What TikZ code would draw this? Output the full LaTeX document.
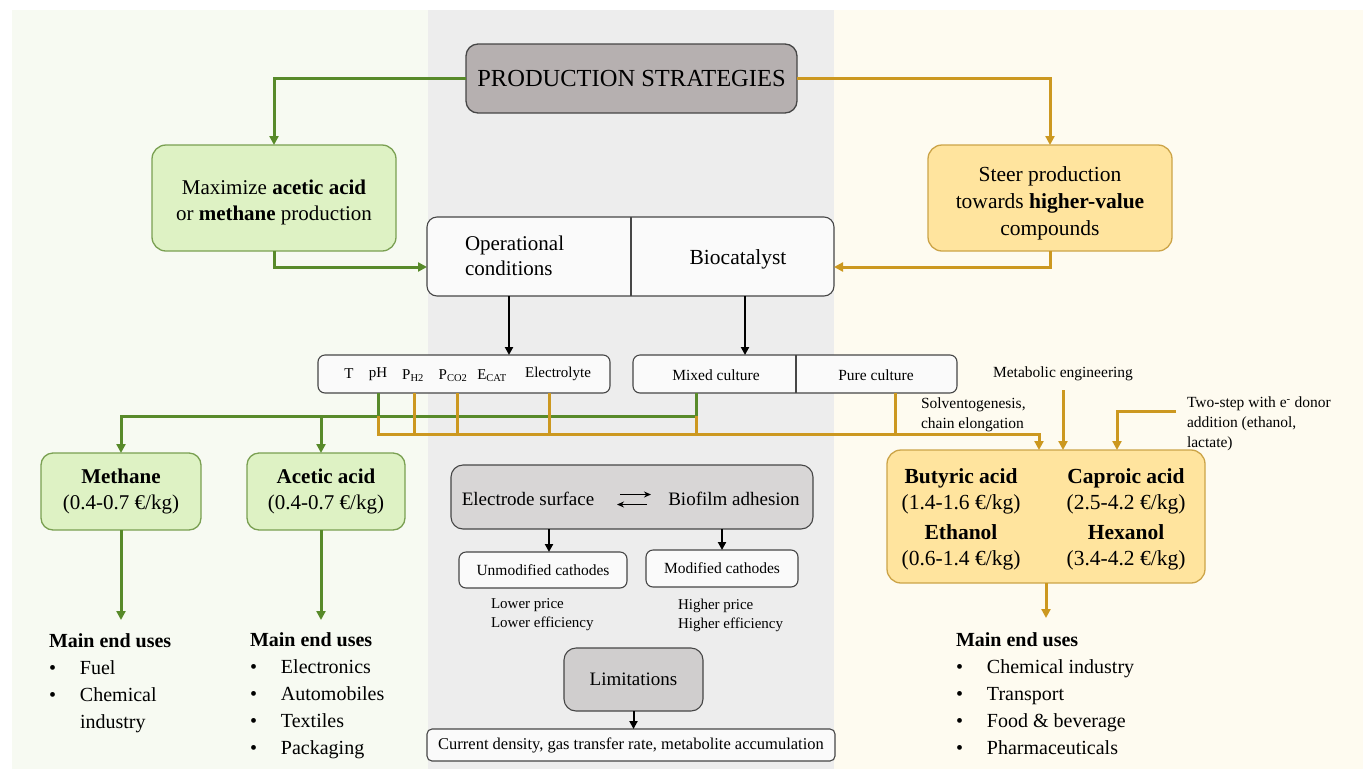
\documentclass[tikz,border=0pt]{standalone}
\usepackage{fontspec}
\setmainfont{Liberation Serif}
\usetikzlibrary{arrows.meta}
\definecolor{bgL}{RGB}{247,250,242}
\definecolor{bgM}{RGB}{237,237,237}
\definecolor{bgR}{RGB}{254,251,240}
\definecolor{gline}{RGB}{88,138,42}
\definecolor{yline}{RGB}{204,152,32}
\definecolor{gfill}{RGB}{222,242,196}
\definecolor{gborder}{RGB}{122,160,82}
\definecolor{yfill}{RGB}{255,228,158}
\definecolor{yborder}{RGB}{204,164,72}
\definecolor{psfill}{RGB}{182,176,176}
\definecolor{dfill}{RGB}{216,214,214}
\definecolor{lfill}{RGB}{208,206,206}
\definecolor{kborder}{RGB}{70,70,70}
\definecolor{wfill}{RGB}{250,250,250}
\newcommand{\fsz}[2]{\fontsize{#1pt}{#2pt}\selectfont}
\tikzset{
  txt/.style={inner sep=0pt, outer sep=0pt, align=center},
  psbox/.style={txt, draw=kborder, fill=psfill, rounded corners=12pt, line width=1.3pt},
  gbox/.style={txt, draw=gborder, fill=gfill, rounded corners=14pt, line width=1.3pt},
  ybox/.style={txt, draw=yborder, fill=yfill, rounded corners=14pt, line width=1.3pt},
  wbox/.style={txt, draw=kborder, fill=wfill, rounded corners=8pt, line width=1.1pt},
  dbox/.style={txt, draw=kborder, fill=dfill, rounded corners=12pt, line width=1.1pt},
  gln/.style={draw=gline, line width=3pt},
  yln/.style={draw=yline, line width=3pt},
  garr/.style={gln, -{Triangle[length=9pt,width=9pt]}},
  yarr/.style={yln, -{Triangle[length=9pt,width=9pt]}},
  karr/.style={draw=black, line width=2.4pt, -{Triangle[length=8pt,width=8pt]}},
  small/.style={txt, font=\fsz{15}{20}},
  uses/.style={txt, anchor=north west, align=left, font=\fsz{20}{27}},
}
\newcommand{\bul}{\makebox[31pt][l]{\textbullet}}
\begin{document}
\begin{tikzpicture}[x=1pt,y=-1pt]
\useasboundingbox (0,0) rectangle (1365,769);
\fill[white] (0,0) rectangle (1365,769);
\fill[bgL] (12,10) rectangle (428,769);
\fill[bgM] (428,10) rectangle (834,769);
\fill[bgR] (834,10) rectangle (1363,769);

% top
\node[psbox, minimum width=331pt, minimum height=69pt, font=\fsz{24.5}{28}] (ps) at (631.5,78.5) {PRODUCTION STRATEGIES};
\node[gbox, minimum width=244pt, minimum height=106pt] (maxb) at (274,198) {};
\node[txt, font=\fsz{21}{26}] (maxt) at (274,202) {Maximize \textbf{acetic acid}\\or \textbf{methane} production};
\node[ybox, minimum width=244pt, minimum height=106pt] (steer) at (1050,198) {};
\node[txt, font=\fsz{21.5}{27}] (steert) at (1050,203) {Steer production\\towards \textbf{higher-value}\\compounds};

% operational / biocatalyst
\node[wbox, rounded corners=10pt, minimum width=407pt, minimum height=79pt] (opbio) at (630.5,256.5) {};
\coordinate (dv) at (631,0);
\draw[kborder, line width=1.1pt] (opbio.north -| dv) -- (opbio.south -| dv);
\node[txt, anchor=west, align=left, font=\fsz{21}{25}] (op) at (465,256) {Operational\\conditions};
\node[txt, font=\fsz{21.5}{25}] (bio) at (738,259) {Biocatalyst};

\draw[garr] (ps.west) -| (maxb.north);
\draw[yarr] (ps.east) -| (steer.north);
\draw[garr] (maxb.south) |- ([yshift=-10.5pt]opbio.west);
\draw[yarr] (steer.south) |- ([yshift=-10.5pt]opbio.east);

% parameter and culture boxes
\node[wbox, rounded corners=7pt, minimum width=292pt, minimum height=38pt] (param) at (464,374) {};
\node[small] (pT) at (349,374) {T};
\node[small] (pph) at (378,374) {pH};
\node[small] (ph2) at (413,376) {P\textsubscript{H2}};
\node[small] (pco2) at (453,376) {P\textsubscript{CO2}};
\node[small] (pcat) at (492,376) {E\textsubscript{CAT}};
\node[small] (pel) at (558,374) {Electrolyte};

\node[wbox, rounded corners=7pt, minimum width=324pt, minimum height=38pt] (cult) at (795,374) {};
\coordinate (cv) at (796,0);
\draw[kborder, line width=1.1pt] (cult.north -| cv) -- (cult.south -| cv);
\node[small, font=\fsz{15.5}{20}] (mixed) at (716,375) {Mixed culture};
\node[small, font=\fsz{15.5}{20}] (pure) at (876,375) {Pure culture};

\coordinate (opb) at (509,296);
\coordinate (biob) at (745,296);
\draw[karr] (opb) -- (opb |- param.north);
\draw[karr] (biob) -- (biob |- cult.north);

% product boxes
\node[gbox, rounded corners=12pt, minimum width=160pt, minimum height=77pt, font=\fsz{21}{26}] (meth) at (121,491.5) {\textbf{Methane}\\(0.4-0.7 €/kg)};
\node[gbox, rounded corners=12pt, minimum width=158pt, minimum height=77pt, font=\fsz{21}{26}] (acet) at (326,491.5) {\textbf{Acetic acid}\\(0.4-0.7 €/kg)};
\node[ybox, minimum width=318pt, minimum height=133pt] (prod) at (1046,516.5) {};
\node[txt, font=\fsz{21.5}{26}] (prodL) at (961,519) {\textbf{Butyric acid}\\(1.4-1.6 €/kg)\\[4pt]\textbf{Ethanol}\\(0.6-1.4 €/kg)};
\node[txt, font=\fsz{21.5}{26}] (prodR) at (1126,519) {\textbf{Caproic acid}\\(2.5-4.2 €/kg)\\[4pt]\textbf{Hexanol}\\(3.4-4.2 €/kg)};

% green connectors
\coordinate (phb) at (378,393);
\coordinate (gph) at (378,416);
\coordinate (mixb) at (696,393);
\coordinate (gmix) at (696,416);
\coordinate (gac) at (321,416);
\draw[gln] (phb) -- (gph);
\draw[garr] (mixb) -- (gmix) -| (meth.north);
\draw[garr] (gac) -- (gac |- acet.north);

% gold connectors
\coordinate (yph) at (378,434);
\coordinate (ysol) at (1039,434);
\coordinate (ph2b) at (414,393);
\coordinate (co2b) at (457,393);
\coordinate (elb) at (549,393);
\coordinate (pureb) at (895,393);
\draw[yln] (ph2b) -- (ph2b |- yph);
\draw[yln] (co2b) -- (co2b |- yph);
\draw[yln] (elb) -- (elb |- yph);
\draw[yln] (pureb) -- (pureb |- yph);
\draw[yln] (gmix) -- (gmix |- yph);
\draw[yarr] (gph) -- (yph) -- (ysol) -- (ysol |- prod.north);

% annotations on the right
\node[txt, anchor=north west, align=left, font=\fsz{15.5}{20}] (solv) at (921,398) {Solventogenesis,\\chain elongation};
\node[txt, font=\fsz{15.5}{20}] (meteng) at (1063,374) {Metabolic engineering};
\coordinate (mete) at (1063,390);
\draw[yarr] (mete) -- (mete |- prod.north);
\node[txt, anchor=north west, align=left, font=\fsz{15.5}{20}] (twostep) at (1187,397) {Two-step with e\textsuperscript{-} donor\\addition (ethanol,\\lactate)};
\coordinate (tsa) at (1176,411);
\coordinate (tsx) at (1117,0);
\draw[yarr] (tsa) -| (prod.north -| tsx);

% end uses
\coordinate (uL) at (121,620);
\coordinate (uA) at (321,620);
\coordinate (uR) at (1046,618);
\draw[garr] (meth.south) -- (uL);
\draw[garr] (acet.south -| uA) -- (uA);
\draw[yarr] (prod.south) -- (uR);
\node[uses] (usesL) at (49,634) {\textbf{Main end uses}\\\bul Fuel\\\bul Chemical\\\makebox[31pt]{}industry};
\node[uses] (usesA) at (250,633) {\textbf{Main end uses}\\\bul Electronics\\\bul Automobiles\\\bul Textiles\\\bul Packaging};
\node[uses] (usesR) at (956,633) {\textbf{Main end uses}\\\bul Chemical industry\\\bul Transport\\\bul Food \& beverage\\\bul Pharmaceuticals};

% electrode section
\node[dbox, minimum width=362pt, minimum height=64pt] (elec) at (632,497) {};
\node[txt, font=\fsz{19}{22}] (esurf) at (528,499) {Electrode surface};
\node[txt, font=\fsz{19}{22}] (biofilm) at (734,499) {Biofilm adhesion};
\draw[line width=1.3pt, -{Stealth[length=7pt,width=6pt]}] (esurf.east -| 620,0) ++(0,-4.5) coordinate (ea1) -- ++(31,0);
\draw[line width=1.3pt, -{Stealth[length=7pt,width=6pt]}] (biofilm.west -| 647,0) ++(0,5.5) coordinate (ea2) -- ++(-30,0);

\node[wbox, rounded corners=7pt, minimum width=168pt, minimum height=36pt, font=\fsz{15.5}{20}] (unmod) at (543,570) {Unmodified cathodes};
\node[wbox, rounded corners=7pt, minimum width=152pt, minimum height=37pt, font=\fsz{15.5}{20}] (mod) at (722,568.5) {Modified cathodes};
\coordinate (e1) at (549,0);
\draw[karr, line width=2pt] (elec.south -| e1) -- (unmod.north -| e1);
\draw[karr, line width=2pt] (elec.south -| mod.north) -- (mod.north);
\node[txt, anchor=north west, align=left, font=\fsz{15}{19}] (lowp) at (491,599) {Lower price\\Lower efficiency};
\node[txt, anchor=north west, align=left, font=\fsz{15}{19}] (highp) at (678,599) {Higher price\\Higher efficiency};

\node[dbox, fill=lfill, minimum width=139pt, minimum height=63pt, font=\fsz{19}{22}] (lim) at (633.5,679.5) {Limitations};
\node[wbox, rounded corners=5pt, minimum width=408pt, minimum height=32pt, font=\fsz{16.5}{20}] (cur) at (631,745) {Current density, gas transfer rate, metabolite accumulation};
\draw[karr, line width=2pt] (lim.south) -- (lim.south |- cur.north);
\end{tikzpicture}
\end{document}
